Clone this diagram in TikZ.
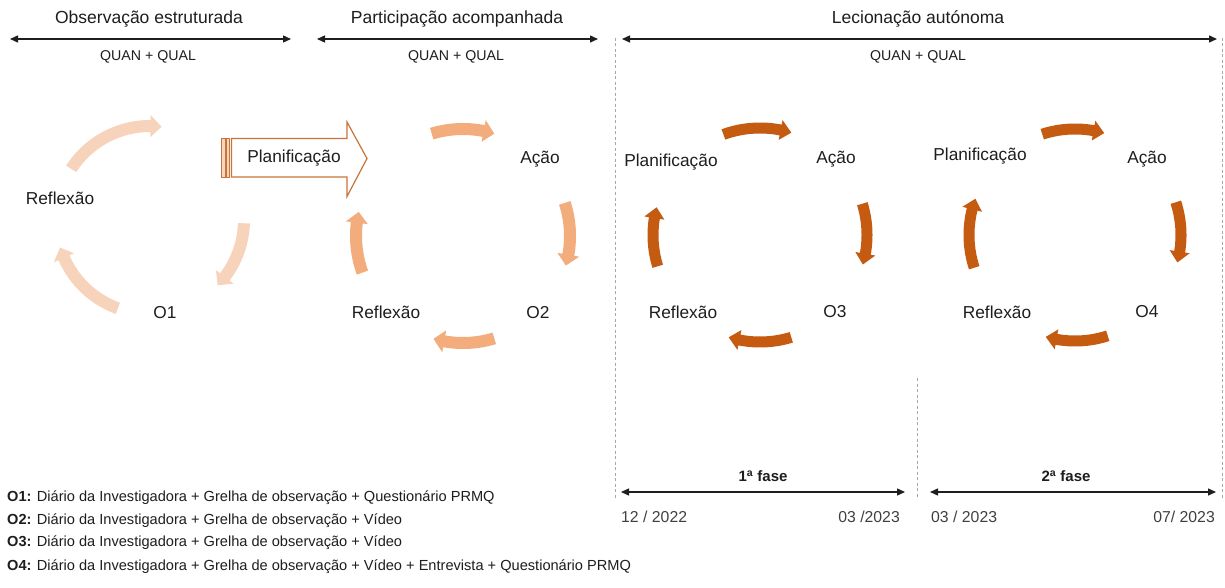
\documentclass[tikz,border=0pt]{standalone}
\usepackage{fontspec}
\setmainfont{Liberation Sans}
\usetikzlibrary{arrows.meta}

\definecolor{ink}{HTML}{1E1E1E}
\definecolor{pale}{HTML}{F7D3BC}
\definecolor{mid}{HTML}{F3AC7C}
\definecolor{deep}{HTML}{C55A11}
\definecolor{edge}{HTML}{C8733A}
\definecolor{stripe}{HTML}{F3D6BF}
\definecolor{guide}{HTML}{A8A8A8}

% curved cycle arrow, drawn clockwise:
% #1,#2 centre  #3 radius  #4 tail angle  #5 tip angle  #6 band width  #7 colour
\newcommand\cyclearrow[7]{%
  \pgfmathsetmacro\cyBase{#5+11/#3*57.2958}%
  \pgfmathsetmacro\cyRo{#3+#6/2}%
  \pgfmathsetmacro\cyRi{#3-#6/2}%
  \pgfmathsetmacro\cyHo{#3+0.92*#6}%
  \pgfmathsetmacro\cyHi{#3-0.92*#6}%
  \fill[#7] ([shift={(#4:\cyRo)}]#1,#2)
      arc[start angle=#4, end angle=\cyBase, radius=\cyRo]
      -- ([shift={(\cyBase:\cyHo)}]#1,#2)
      -- ([shift={(#5:#3)}]#1,#2)
      -- ([shift={(\cyBase:\cyHi)}]#1,#2)
      -- ([shift={(\cyBase:\cyRi)}]#1,#2)
      arc[start angle=\cyBase, end angle=#4, radius=\cyRi]
      -- cycle;}

\begin{document}
\begin{tikzpicture}[x=1pt,y=1pt,
  lbl/.style={text=ink, font=\fontsize{17.3}{20}\selectfont, inner sep=0pt},
  title/.style={text=ink, font=\fontsize{17.5}{20}\selectfont, inner sep=0pt},
  sub/.style={text=ink, font=\fontsize{14.2}{17}\selectfont, inner sep=0pt},
  date/.style={text=ink!85, font=\fontsize{15.8}{18}\selectfont, inner sep=0pt},
  phase/.style={text=ink, font=\bfseries\fontsize{15}{18}\selectfont, inner sep=0pt},
  legend/.style={text=ink, font=\fontsize{14.6}{17}\selectfont, inner sep=0pt, anchor=west},
  span/.style={{Triangle[length=8pt,width=7pt]}-{Triangle[length=8pt,width=7pt]}, line width=1.3pt, draw=ink, fill=ink},
  guideline/.style={draw=guide, line width=0.8pt, dash pattern=on 3pt off 2.5pt},
]
\useasboundingbox[fill=white] (0,0) rectangle (1225,-588);

% ---------- phase headings ----------
\node[title] (h1) at (149,-19) {Observação estruturada};
\node[title] (h2) at (457,-19) {Participação acompanhada};
\node[title] (h3) at (918,-19) {Lecionação autónoma};

\coordinate (a1l) at (10,-39);   \coordinate (a1r) at (291,-39);
\coordinate (a2l) at (317,-39);  \coordinate (a2r) at (598,-39);
\coordinate (a3l) at (622,-39);  \coordinate (a3r) at (1217,-39);
\draw[span] (a1l) -- (a1r);
\draw[span] (a2l) -- (a2r);
\draw[span] (a3l) -- (a3r);

\node[sub] (q1) at (148,-57) {QUAN + QUAL};
\node[sub] (q2) at (456,-57) {QUAN + QUAL};
\node[sub] (q3) at (918,-57) {QUAN + QUAL};

% ---------- dashed frame of the autonomous phase ----------
\coordinate (g1t) at (615,-38);   \coordinate (g1b) at (615,-498);
\coordinate (g2t) at (1222,-38);  \coordinate (g2b) at (1222,-498);
\coordinate (g3t) at (917,-378);  \coordinate (g3b) at (917,-498);
\draw[guideline] (g1t) -- (g1b);
\draw[guideline] (g2t) -- (g2b);
\draw[guideline] (g3t) -- (g3b);

% ---------- cycle 1 (three steps, faded) ----------
\cyclearrow{150}{-220}{94}{147}{83}{12}{pale}
\cyclearrow{150}{-220}{94}{-2}{-44}{12}{pale}
\cyclearrow{150}{-220}{94}{250}{197}{12}{pale}
\node[lbl] (r1) at (60,-198) {Reflexão};
\node[lbl] (o1) at (165,-313) {O1};

% ---------- striped arrow carrying the planning step ----------
\draw[edge, fill=stripe, line width=0.9pt] (221.5,-138.5) rectangle (225,-177);
\draw[edge, fill=stripe, line width=0.9pt] (226.5,-138.5) rectangle (229.5,-177);
\draw[edge, fill=white, line width=1.2pt, line join=miter]
  (231.5,-138.5) -- (347,-138.5) -- (347,-122) -- (367,-158.5)
  -- (347,-196.5) -- (347,-177) -- (231.5,-177) -- cycle;
\node[lbl] (p2) at (294,-158) {Planificação};

% ---------- cycle 2 ----------
\cyclearrow{463}{-236}{107}{107}{73}{12}{mid}
\cyclearrow{463}{-236}{107}{18}{-16}{12}{mid}
\cyclearrow{463}{-236}{107}{-73}{-106}{12}{mid}
\cyclearrow{463}{-236}{107}{200}{167}{12}{mid}
\node[lbl] (c2) at (540,-159) {Ação};
\node[lbl] (o2) at (538,-313) {O2};
\node[lbl] (r2) at (386,-312) {Reflexão};

% ---------- cycle 3 ----------
\cyclearrow{760}{-235}{107}{110}{73}{11}{deep}
\cyclearrow{760}{-235}{107}{17}{-16}{11}{deep}
\cyclearrow{760}{-235}{107}{-73}{-107}{11}{deep}
\cyclearrow{760}{-235}{107}{197}{165}{11}{deep}
\node[lbl] (p3) at (671,-162) {Planificação};
\node[lbl] (c3) at (836,-159) {Ação};
\node[lbl] (r3) at (683,-312) {Reflexão};
\node[lbl] (o3) at (835,-312) {O3};

% ---------- cycle 4 ----------
\cyclearrow{1075}{-235}{106}{108}{74}{11}{deep}
\cyclearrow{1075}{-235}{106}{18}{-15}{11}{deep}
\cyclearrow{1075}{-235}{106}{-72}{-106}{11}{deep}
\cyclearrow{1075}{-235}{106}{198}{160}{11}{deep}
\node[lbl] (p4) at (980,-156) {Planificação};
\node[lbl] (c4) at (1147,-159) {Ação};
\node[lbl] (r4) at (997,-312) {Reflexão};
\node[lbl] (o4) at (1147,-312) {O4};

% ---------- time line ----------
\node[phase] (f1) at (763,-476) {1\textsuperscript{a} fase};
\node[phase] (f2) at (1066,-476) {2\textsuperscript{a} fase};
\coordinate (t1l) at (621,-492);  \coordinate (t1r) at (905,-492);
\coordinate (t2l) at (930,-492);  \coordinate (t2r) at (1216,-492);
\draw[span] (t1l) -- (t1r);
\draw[span] (t2l) -- (t2r);
\node[date, anchor=west] (d1) at (621,-517) {12 / 2022};
\node[date, anchor=east] (d2) at (900,-517) {03 /2023};
\node[date, anchor=west] (d3) at (931,-517) {03 / 2023};
\node[date, anchor=east] (d4) at (1215,-517) {07/ 2023};

% ---------- legend ----------
\node[legend] (l1) at (7,-498) {\textbf{O1:} Diário da Investigadora + Grelha de observação + Questionário PRMQ};
\node[legend] (l2) at (7,-521) {\textbf{O2:} Diário da Investigadora + Grelha de observação + Vídeo};
\node[legend] (l3) at (7,-543) {\textbf{O3:} Diário da Investigadora + Grelha de observação + Vídeo};
\node[legend] (l4) at (7,-567) {\textbf{O4:} Diário da Investigadora + Grelha de observação + Vídeo + Entrevista + Questionário PRMQ};
\end{tikzpicture}
\end{document}
